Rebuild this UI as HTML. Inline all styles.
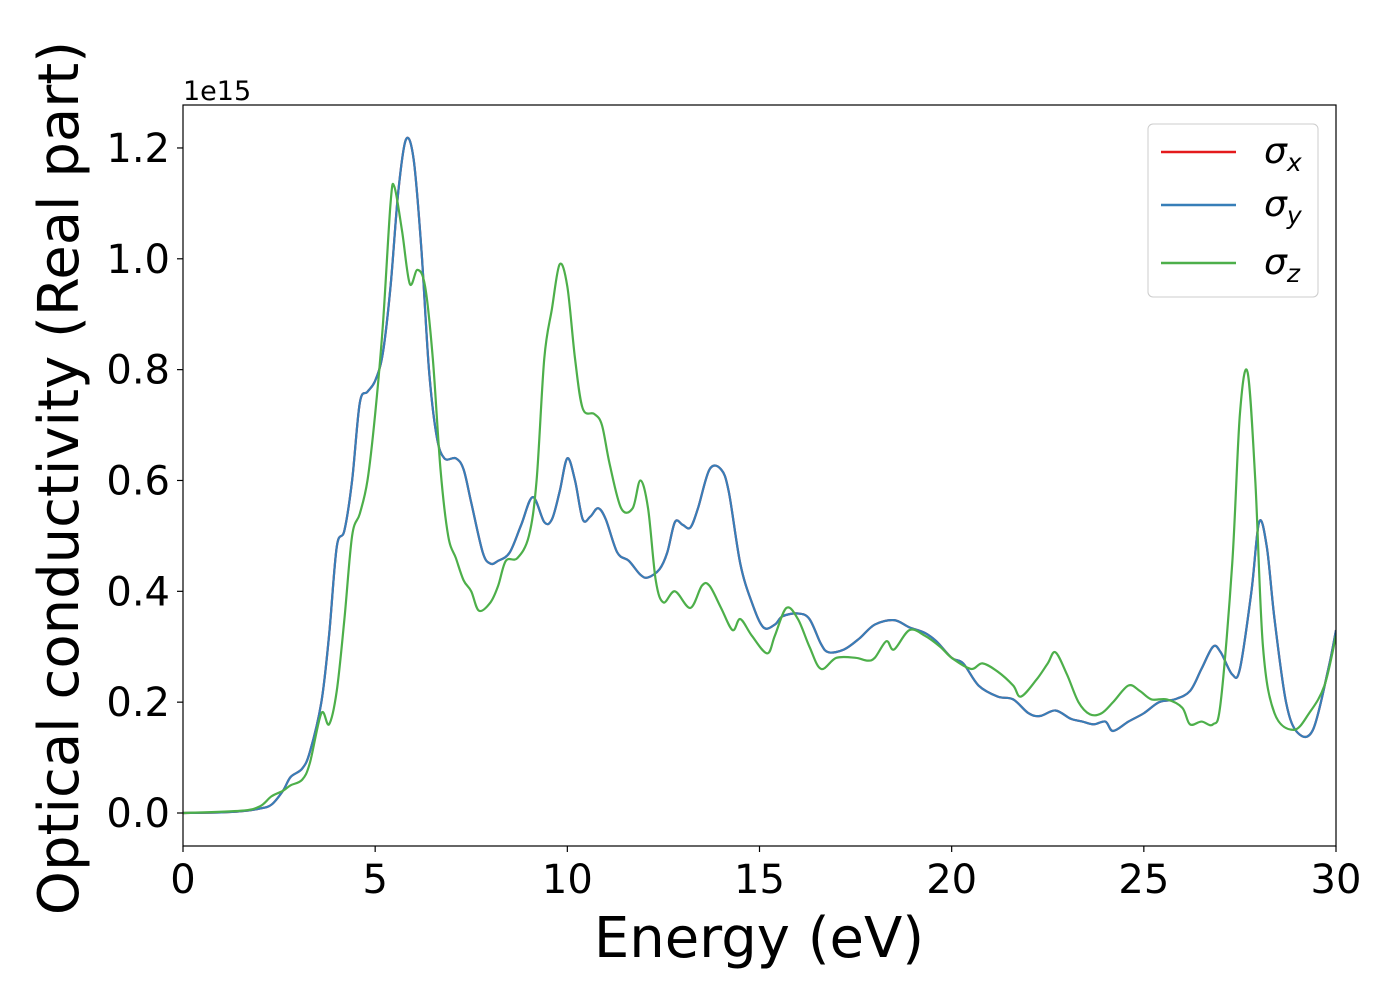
<!DOCTYPE html>
<html><head><meta charset="utf-8"><style>
body{margin:0;background:#fff}
svg text{font-family:"DejaVu Sans","Liberation Sans",sans-serif;fill:#000}
</style></head><body>
<svg id="chart" width="1400" height="1000" xmlns="http://www.w3.org/2000/svg">
<g id="plot"></g>
</svg>
<script>
const blueE=[0,1,1.5,2,2.3,2.6,2.8,3.1,3.3,3.6,3.8,4.0,4.2,4.4,4.6,4.8,5.0,5.2,5.4,5.6,5.8,6.0,6.2,6.4,6.6,6.8,7.1,7.3,7.5,7.8,8.0,8.2,8.5,8.8,9.1,9.4,9.6,9.8,10.0,10.2,10.4,10.6,10.8,11.0,11.3,11.6,11.9,12.1,12.4,12.6,12.8,13.0,13.2,13.4,13.7,14.0,14.2,14.5,14.8,15.1,15.4,15.6,16.0,16.3,16.6,16.8,17.2,17.6,18.0,18.5,18.9,19.3,19.6,20.0,20.3,20.7,21.2,21.6,22.0,22.3,22.7,23.1,23.4,23.7,24.0,24.2,24.6,25.0,25.4,25.8,26.2,26.5,26.8,27.0,27.3,27.5,27.8,28.0,28.2,28.4,28.7,29.0,29.4,29.8,30];
const blueV=[0,0.001,0.003,0.008,0.015,0.04,0.065,0.08,0.11,0.2,0.32,0.48,0.51,0.6,0.74,0.76,0.78,0.83,0.95,1.12,1.215,1.18,1.02,0.8,0.68,0.64,0.64,0.62,0.56,0.47,0.45,0.455,0.47,0.52,0.57,0.525,0.53,0.58,0.64,0.6,0.53,0.535,0.55,0.53,0.47,0.455,0.43,0.425,0.44,0.47,0.525,0.52,0.515,0.55,0.62,0.62,0.58,0.45,0.38,0.335,0.34,0.355,0.36,0.35,0.305,0.29,0.295,0.315,0.34,0.348,0.335,0.325,0.31,0.28,0.27,0.23,0.21,0.205,0.18,0.175,0.185,0.17,0.165,0.16,0.165,0.148,0.165,0.18,0.2,0.205,0.22,0.26,0.3,0.29,0.25,0.26,0.4,0.525,0.48,0.35,0.2,0.145,0.15,0.26,0.33];
const greenE=[0,1.5,2,2.3,2.6,2.8,3.1,3.3,3.6,3.8,4.0,4.2,4.4,4.6,4.8,5.0,5.2,5.4,5.5,5.7,5.9,6.1,6.3,6.5,6.7,6.9,7.1,7.3,7.5,7.7,8.0,8.2,8.4,8.7,9.0,9.2,9.4,9.6,9.8,10.0,10.2,10.4,10.7,10.9,11.1,11.4,11.7,11.9,12.1,12.3,12.5,12.8,13.2,13.5,13.7,14.0,14.3,14.5,14.8,15.2,15.4,15.7,16.0,16.3,16.6,17.0,17.5,17.8,18.0,18.3,18.5,18.9,19.3,19.7,20.0,20.5,20.8,21.2,21.6,21.8,22.2,22.5,22.7,23.0,23.3,23.6,23.9,24.2,24.6,24.9,25.2,25.6,26.0,26.2,26.5,26.8,27.0,27.3,27.5,27.7,27.9,28.1,28.4,28.9,29.3,29.7,30];
const greenV=[0,0.004,0.012,0.03,0.04,0.05,0.06,0.09,0.18,0.16,0.22,0.35,0.5,0.54,0.6,0.72,0.88,1.1,1.13,1.05,0.955,0.98,0.95,0.82,0.62,0.5,0.46,0.42,0.4,0.365,0.38,0.41,0.455,0.46,0.5,0.6,0.82,0.91,0.99,0.95,0.82,0.73,0.72,0.7,0.63,0.55,0.55,0.6,0.55,0.42,0.38,0.4,0.37,0.41,0.41,0.37,0.33,0.35,0.32,0.288,0.32,0.37,0.35,0.3,0.26,0.28,0.28,0.275,0.28,0.31,0.295,0.33,0.32,0.3,0.28,0.26,0.27,0.255,0.23,0.21,0.24,0.27,0.29,0.25,0.2,0.178,0.18,0.2,0.23,0.22,0.205,0.205,0.19,0.16,0.165,0.16,0.2,0.45,0.72,0.795,0.6,0.3,0.18,0.15,0.18,0.23,0.32];
const xTicks=[0,5,10,15,20,25,30];
const yTicks=[0,0.2,0.4,0.6,0.8,1.0,1.2];
const yTickLabels=["0.0","0.2","0.4","0.6","0.8","1.0","1.2"];

const L=183,R=1336,T=105,B=846;
const sx=e=>L+e*(R-L)/30;
const sy=v=>813-v*554.2;
const NS="http://www.w3.org/2000/svg";
const g=document.getElementById('plot');
function mk(t,a,p){const e=document.createElementNS(NS,t);for(const k in a)e.setAttribute(k,a[k]);(p||g).appendChild(e);return e;}
function path(E,V){const P=E.map((e,i)=>[sx(e),sy(V[i])]);let d='M'+P[0][0]+','+P[0][1];
for(let i=0;i<P.length-1;i++){const p0=P[Math.max(0,i-1)],p1=P[i],p2=P[i+1],p3=P[Math.min(P.length-1,i+2)];
d+=` C${p1[0]+(p2[0]-p0[0])/6},${p1[1]+(p2[1]-p0[1])/6} ${p2[0]-(p3[0]-p1[0])/6},${p2[1]-(p3[1]-p1[1])/6} ${p2[0]},${p2[1]}`;}return d;}
const cp=mk('clipPath',{id:'cp'});mk('rect',{x:L,y:T,width:R-L,height:B-T},cp);
let s;
s=mk('path',{d:path(blueE,blueV),fill:'none',stroke:'#e41a1c','stroke-width':2.2,'clip-path':'url(#cp)'});

s=mk('path',{d:path(blueE,blueV),fill:'none',stroke:'#377eb8','stroke-width':2.2,'clip-path':'url(#cp)'});

s=mk('path',{d:path(greenE,greenV),fill:'none',stroke:'#4daf4a','stroke-width':2.2,'clip-path':'url(#cp)'});

s=mk('rect',{x:L,y:T,width:R-L,height:B-T,fill:'none',stroke:'#000','stroke-width':1.2});

xTicks.forEach(t=>{mk('line',{x1:sx(t),x2:sx(t),y1:B,y2:B+6,stroke:'#000','stroke-width':1.2});
const tx=mk('text',{x:sx(t),y:893,'font-size':40,'text-anchor':'middle'});tx.textContent=t;
});
yTicks.forEach((t,i)=>{mk('line',{x1:L-6,x2:L,y1:sy(t),y2:sy(t),stroke:'#000','stroke-width':1.2});
const tx=mk('text',{x:170,y:sy(t)+14,'font-size':40,'text-anchor':'end'});tx.textContent=yTickLabels[i];
});
s=mk('text',{x:183,y:100,'font-size':27});s.textContent='1e15';

s=mk('text',{x:759,y:957,'font-size':56,'text-anchor':'middle'});s.textContent='Energy (eV)';

s=mk('text',{x:0,y:0,'font-size':56,'text-anchor':'middle',transform:'translate(78,478) rotate(-90)'});s.textContent='Optical conductivity (Real part)';

const lg=mk('g',{});
mk('rect',{x:1148,y:124,width:170,height:173,rx:5,fill:'#fff','fill-opacity':0.8,stroke:'#ccc','stroke-width':1},lg);
const labs=['x','y','z'],cols=['#e41a1c','#377eb8','#4daf4a'],ys=[152,205,263];
labs.forEach((l,i)=>{const e=mk('g',{},lg);
mk('line',{x1:1161,x2:1236,y1:ys[i],y2:ys[i],stroke:cols[i],'stroke-width':2.5},e);
const t=mk('text',{x:1264,y:ys[i]+11,'font-size':36,'font-style':'italic'},e);
t.innerHTML='σ<tspan font-size="25" dy="8">'+l+'</tspan>';});
</script>
</body></html>
